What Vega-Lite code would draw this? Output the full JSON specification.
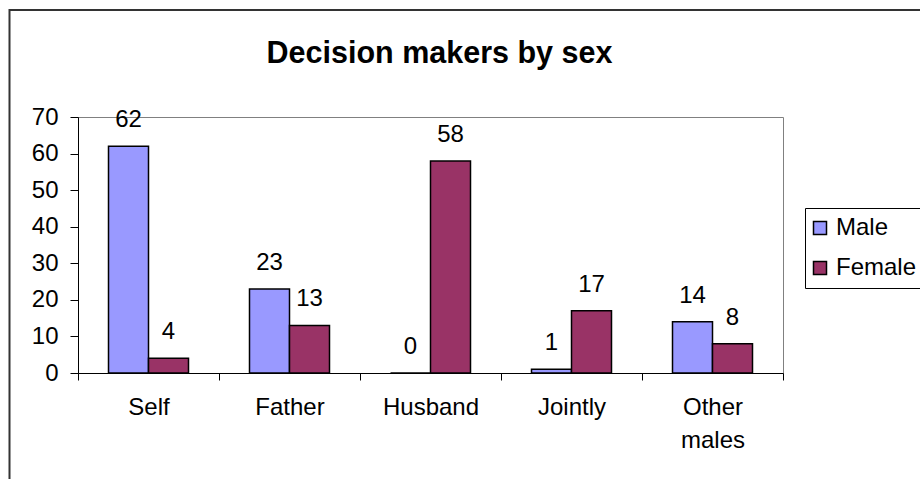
{
  "$schema": "https://vega.github.io/schema/vega-lite/v6.json",
  "width": 705,
  "height": 256,
  "autosize": {"type": "none"},
  "padding": {"left": 78, "top": 117, "right": 137, "bottom": 106},
  "background": "white",
  "config": {
    "font": "Liberation Sans",
    "view": {"stroke": "#808080", "strokeWidth": 1}
  },
  "title": {
    "text": "Decision makers by sex",
    "font": "Liberation Sans",
    "fontSize": 30.5,
    "fontWeight": "bold",
    "color": "black",
    "anchor": "middle",
    "dx": 9,
    "offset": 0,
    "dy": 60
  },
  "data": {
    "values": [
      {"who": "Self", "sex": "Male", "value": 62},
      {"who": "Self", "sex": "Female", "value": 4},
      {"who": "Father", "sex": "Male", "value": 23},
      {"who": "Father", "sex": "Female", "value": 13},
      {"who": "Husband", "sex": "Male", "value": 0},
      {"who": "Husband", "sex": "Female", "value": 58},
      {"who": "Jointly", "sex": "Male", "value": 1},
      {"who": "Jointly", "sex": "Female", "value": 17},
      {"who": "Other males", "sex": "Male", "value": 14},
      {"who": "Other males", "sex": "Female", "value": 8}
    ]
  },
  "encoding": {
    "x": {
      "field": "who",
      "type": "nominal",
      "sort": ["Self", "Father", "Husband", "Jointly", "Other males"],
      "scale": {"paddingInner": 0, "paddingOuter": 0},
      "axis": {
        "title": null,
        "labelAngle": 0,
        "labelFontSize": 24,
        "labelColor": "black",
        "labelBaseline": "top",
        "labelPadding": 15,
        "labelLineHeight": 33,
        "labelExpr": "datum.value == 'Other males' ? ['Other', 'males'] : datum.value",
        "tickSize": 7,
        "tickColor": "black",
        "tickBand": "extent",
        "domainColor": "black",
        "grid": false
      }
    },
    "xOffset": {
      "field": "sex",
      "type": "nominal",
      "sort": ["Male", "Female"],
      "scale": {"paddingInner": 0, "paddingOuter": 0.7625}
    },
    "y": {
      "field": "value",
      "type": "quantitative",
      "scale": {"domain": [0, 70], "nice": false},
      "axis": {
        "title": null,
        "values": [0, 10, 20, 30, 40, 50, 60, 70],
        "tickCount": 8,
        "grid": false,
        "labelOverlap": false,
        "labelFontSize": 24,
        "labelColor": "black",
        "labelPadding": 12,
        "tickSize": 8,
        "tickColor": "black",
        "domainColor": "black"
      }
    }
  },
  "layer": [
    {
      "data": {"values": [{"frame": 1}]},
      "mark": {"type": "rect", "filled": false, "stroke": "#333333", "strokeWidth": 2},
      "encoding": {
        "x": {"value": -68.5},
        "y": {"value": -107},
        "x2": {"value": 900},
        "y2": {"value": 420},
        "xOffset": null
      }
    },
    {
      "mark": {"type": "bar", "stroke": "black", "strokeWidth": 1.5},
      "encoding": {
        "color": {
          "field": "sex",
          "type": "nominal",
          "sort": ["Male", "Female"],
          "scale": {"domain": ["Male", "Female"], "range": ["#9999FF", "#993366"]},
          "legend": {
            "title": null,
            "orient": "none",
            "legendX": 727,
            "legendY": 91,
            "strokeColor": "black",
            "fillColor": "white",
            "padding": 8,
            "rowPadding": 16,
            "labelFontSize": 24,
            "labelColor": "black",
            "labelOffset": 4,
            "symbolOffset": -5,
            "symbolType": "square",
            "symbolSize": 169,
            "symbolStrokeColor": "black",
            "symbolStrokeWidth": 1.5,
            "symbolOpacity": 1
          }
        }
      }
    },
    {
      "mark": {"type": "text", "fontSize": 24, "color": "black", "baseline": "alphabetic", "dy": -19, "align": "center"},
      "encoding": {
        "text": {"field": "value", "type": "quantitative"}
      }
    }
  ]
}
